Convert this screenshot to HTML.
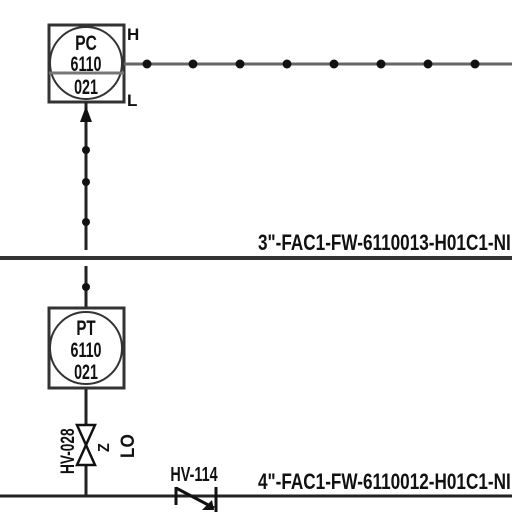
<!DOCTYPE html>
<html><head><meta charset="utf-8"><style>
html,body{margin:0;padding:0;background:#fff;width:512px;height:512px;overflow:hidden}
svg{display:block}
text{font-family:"Liberation Sans",sans-serif;font-weight:bold;fill:#111}
</style></head><body>
<svg width="512" height="512" viewBox="0 0 512 512">
<g>
<rect x="49" y="25" width="75" height="77" fill="none" stroke="#333" stroke-width="3"/>
<circle cx="86" cy="63" r="36" fill="none" stroke="#333" stroke-width="2"/>
<line x1="49" y1="73" x2="124" y2="73" stroke="#777" stroke-width="3"/>
<text x="86" y="50" font-size="21" text-anchor="middle" transform="translate(86 0) scale(0.75 1) translate(-86 0)">PC</text>
<text x="86" y="71" font-size="21" text-anchor="middle" transform="translate(86 0) scale(0.68 1) translate(-86 0)">6110</text>
<text x="86" y="94" font-size="21" text-anchor="middle" transform="translate(86 0) scale(0.68 1) translate(-86 0)">021</text>
</g>
<text x="127" y="40" font-size="17">H</text>
<text x="127" y="106" font-size="17">L</text>
<g>
<line x1="124" y1="64" x2="512" y2="64" stroke="#666" stroke-width="3"/>
<g fill="#111">
<circle cx="147" cy="64" r="4.5"/><circle cx="193" cy="64" r="4.5"/><circle cx="240" cy="64" r="4.5"/><circle cx="287" cy="64" r="4.5"/><circle cx="334" cy="64" r="4.5"/><circle cx="381" cy="64" r="4.5"/><circle cx="428" cy="64" r="4.5"/><circle cx="475" cy="64" r="4.5"/>
</g></g>
<g>
<line x1="86" y1="102" x2="86" y2="250" stroke="#222" stroke-width="3"/>
<polygon points="86,106 80,122 92,122" fill="#111"/>
<circle cx="86" cy="150" r="4" fill="#111"/><circle cx="86" cy="182" r="4" fill="#111"/><circle cx="86" cy="222" r="4" fill="#111"/>
</g>
<text x="258" y="250" font-size="22" transform="translate(258 0) scale(0.78 1) translate(-258 0)">3"-FAC1-FW-6110013-H01C1-NI</text>
<line x1="0" y1="258" x2="512" y2="258" stroke="#333" stroke-width="4"/>
<g>
<line x1="86" y1="266" x2="86" y2="307" stroke="#222" stroke-width="3"/>
<circle cx="86" cy="287" r="4" fill="#111"/>
<line x1="86" y1="388" x2="86" y2="496" stroke="#222" stroke-width="3"/>
</g>
<g>
<rect x="49" y="308" width="75" height="80" fill="none" stroke="#333" stroke-width="3"/>
<circle cx="86" cy="348" r="36" fill="none" stroke="#333" stroke-width="2"/>
<text x="86" y="335" font-size="21" text-anchor="middle" transform="translate(86 0) scale(0.72 1) translate(-86 0)">PT</text>
<text x="86" y="357" font-size="21" text-anchor="middle" transform="translate(86 0) scale(0.68 1) translate(-86 0)">6110</text>
<text x="86" y="379" font-size="21" text-anchor="middle" transform="translate(86 0) scale(0.68 1) translate(-86 0)">021</text>
</g>
<g>
<polygon points="77,425 95,425 86,445" fill="#fff" stroke="#111" stroke-width="2.5"/>
<polygon points="77,465 95,465 86,445" fill="#fff" stroke="#111" stroke-width="2.5"/>
<text x="0" y="0" font-size="19" transform="translate(74 474) rotate(-90) scale(0.72 1)">HV-028</text>
<text x="0" y="0" font-size="16" transform="translate(109 452) rotate(-90) scale(0.9 1)">Z</text>
<text x="0" y="0" font-size="19" transform="translate(134 458) rotate(-90) scale(0.9 1)">LO</text>
</g>
<line x1="0" y1="496" x2="512" y2="496" stroke="#222" stroke-width="3"/>
<g>
<line x1="176" y1="487" x2="176" y2="505" stroke="#111" stroke-width="3"/>
<line x1="216" y1="487" x2="216" y2="512" stroke="#111" stroke-width="3"/>
<line x1="176" y1="488" x2="214" y2="508" stroke="#111" stroke-width="3"/>
<polygon points="214,510 202,510 212,500" fill="#111"/>
<text x="194" y="481" font-size="20" text-anchor="middle" transform="translate(194 0) scale(0.72 1) translate(-194 0)">HV-114</text>
</g>
<text x="258" y="489" font-size="22" transform="translate(258 0) scale(0.78 1) translate(-258 0)">4"-FAC1-FW-6110012-H01C1-NI</text>
</svg>
</body></html>
